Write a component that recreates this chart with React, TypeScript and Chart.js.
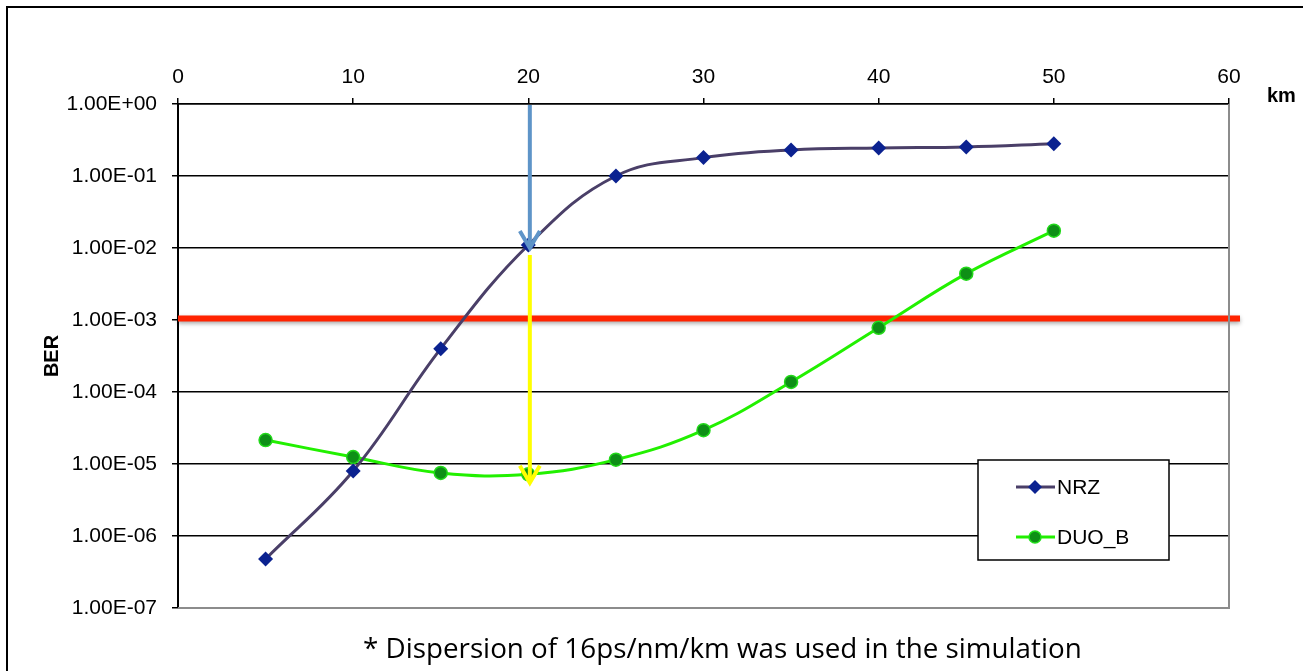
import { useEffect, useRef } from "react";
import { Chart, registerables } from "chart.js";

Chart.register(...registerables);

// ---- data ----
const distancesKm = [5, 10, 15, 20, 25, 30, 35, 40, 45, 50];
const nrzBer = [4.8e-7, 8.0e-6, 4.0e-4, 1.1e-2, 1.0e-1, 1.8e-1, 2.3e-1, 2.45e-1, 2.53e-1, 2.8e-1];
const duoBBer = [2.15e-5, 1.25e-5, 7.5e-6, 7.2e-6, 1.15e-5, 2.95e-5, 1.38e-4, 7.8e-4, 4.4e-3, 1.74e-2];
const seriesNames = ["NRZ", "DUO_B"];
const xTickValues = [0, 10, 20, 30, 40, 50, 60];
const yTickValues = [1, 1e-1, 1e-2, 1e-3, 1e-4, 1e-5, 1e-6, 1e-7];
const thresholdBer = 1e-3;
const arrowDistanceKm = 20;
const blueArrowBer = [1, 1e-2];
const yellowArrowBer = [8e-3, 5.5e-6];
const xUnitLabel = "km";
const yAxisTitle = "BER";
const footnoteText = "* Dispersion of 16ps/nm/km was used in the simulation";

const FONT = "'Liberation Sans', Arial, sans-serif";
const NRZ_LINE = "#4a3f68";
const NRZ_MARK = "#0b2290";
const DUO_LINE = "#22f000";
const DUO_MARK = "#0e8f16";

function fmtExp(v: number): string {
  const e = Math.round(Math.log10(v));
  const m = v / Math.pow(10, e);
  const sign = e < 0 ? "-" : "+";
  const abs = Math.abs(e);
  return m.toFixed(2) + "E" + sign + (abs < 10 ? "0" : "") + abs;
}

function drawArrow(ctx: CanvasRenderingContext2D, x: number, y1: number, y2: number, color: string) {
  ctx.save();
  ctx.strokeStyle = color;
  ctx.lineWidth = 4;
  ctx.lineCap = "butt";
  ctx.beginPath();
  ctx.moveTo(x, y1);
  ctx.lineTo(x, y2 - 1);
  ctx.stroke();
  ctx.lineJoin = "miter";
  ctx.beginPath();
  ctx.moveTo(x - 10, y2 - 17);
  ctx.lineTo(x, y2);
  ctx.lineTo(x + 10, y2 - 17);
  ctx.stroke();
  ctx.restore();
}

const overlayPlugin = {
  id: "overlay",
  beforeDatasetsDraw(chart: any) {
    const { ctx, chartArea, scales } = chart;
    const y = scales.y.getPixelForValue(thresholdBer) - 1.5;
    ctx.save();
    ctx.shadowColor = "rgba(0,0,0,0.35)";
    ctx.shadowBlur = 4;
    ctx.shadowOffsetY = 2;
    ctx.fillStyle = "#ff2300";
    ctx.fillRect(chartArea.left, y - 3, chartArea.right + 11 - chartArea.left, 6);
    ctx.restore();
  },
  afterDatasetsDraw(chart: any) {
    const { ctx, scales } = chart;
    const x = scales.x.getPixelForValue(arrowDistanceKm) + 1.5;
    drawArrow(ctx, x, scales.y.getPixelForValue(blueArrowBer[0]) + 1, scales.y.getPixelForValue(blueArrowBer[1]), "#5e94c8");
    drawArrow(ctx, x, scales.y.getPixelForValue(yellowArrowBer[0]), scales.y.getPixelForValue(yellowArrowBer[1]), "#ffff00");
  },
  afterDraw(chart: any) {
    const { ctx, chartArea } = chart;
    ctx.save();
    // plot area right/bottom border
    ctx.strokeStyle = "#8c8c8c";
    ctx.lineWidth = 2;
    ctx.beginPath();
    ctx.moveTo(chartArea.right, chartArea.top);
    ctx.lineTo(chartArea.right, chartArea.bottom);
    ctx.lineTo(chartArea.left, chartArea.bottom);
    ctx.stroke();

    // outer frame
    ctx.strokeStyle = "#000";
    ctx.lineWidth = 2;
    ctx.beginPath();
    ctx.moveTo(7, 671);
    ctx.lineTo(7, 7);
    ctx.lineTo(1303, 7);
    ctx.stroke();

    // km label
    ctx.fillStyle = "#000";
    ctx.font = "bold 20px " + FONT;
    ctx.textAlign = "left";
    ctx.textBaseline = "middle";
    ctx.fillText(xUnitLabel, chartArea.right + 38, chartArea.top - 8);

    // legend
    const lx = 978, ly = 460, lw = 191, lh = 100;
    ctx.fillStyle = "#fff";
    ctx.fillRect(lx, ly, lw, lh);
    ctx.strokeStyle = "#000";
    ctx.lineWidth = 1.5;
    ctx.strokeRect(lx, ly, lw, lh);
    const entries = [
      { name: seriesNames[0], line: NRZ_LINE, mark: NRZ_MARK, y: ly + 27, shape: "diamond" },
      { name: seriesNames[1], line: DUO_LINE, mark: DUO_MARK, y: ly + 77, shape: "circle" },
    ];
    for (const e of entries) {
      ctx.strokeStyle = e.line;
      ctx.lineWidth = 3;
      ctx.beginPath();
      ctx.moveTo(lx + 38, e.y);
      ctx.lineTo(lx + 77, e.y);
      ctx.stroke();
      const cx = lx + 57;
      ctx.fillStyle = e.mark;
      ctx.beginPath();
      if (e.shape === "diamond") {
        ctx.moveTo(cx, e.y - 7);
        ctx.lineTo(cx + 7, e.y);
        ctx.lineTo(cx, e.y + 7);
        ctx.lineTo(cx - 7, e.y);
        ctx.closePath();
        ctx.fill();
      } else {
        ctx.arc(cx, e.y, 6, 0, Math.PI * 2);
        ctx.fill();
        ctx.strokeStyle = "#22e01a";
        ctx.lineWidth = 1.5;
        ctx.stroke();
      }
      ctx.fillStyle = "#000";
      ctx.font = "21px " + FONT;
      ctx.textAlign = "left";
      ctx.textBaseline = "middle";
      ctx.fillText(e.name, lx + 79, e.y + 1);
    }

    // footnote
    ctx.fillStyle = "#000";
    let size = 26;
    ctx.font = size + "px 'Open Sans', 'Noto Sans', sans-serif";
    const w = ctx.measureText(footnoteText).width;
    size = Math.min(28, size * 719 / w);
    ctx.font = size.toFixed(2) + "px 'Open Sans', 'Noto Sans', sans-serif";
    ctx.textAlign = "left";
    ctx.textBaseline = "alphabetic";
    ctx.fillText(footnoteText, 363, 658);
    ctx.restore();
  },
};

export default function App() {
  const ref = useRef<HTMLCanvasElement | null>(null);
  useEffect(() => {
    if (!ref.current) return;
    const chart = new Chart(ref.current, {
      type: "line",
      data: {
        datasets: [
          {
            label: seriesNames[0],
            data: distancesKm.map((d, i) => ({ x: d, y: nrzBer[i] })),
            borderColor: NRZ_LINE,
            borderWidth: 3,
            backgroundColor: NRZ_MARK,
            pointStyle: "rectRot",
            pointRadius: 7.5,
            pointBorderWidth: 0,
            pointBackgroundColor: NRZ_MARK,
            tension: 0.4,
            fill: false,
          },
          {
            label: seriesNames[1],
            data: distancesKm.map((d, i) => ({ x: d, y: duoBBer[i] })),
            borderColor: DUO_LINE,
            borderWidth: 3,
            backgroundColor: DUO_MARK,
            pointStyle: "circle",
            pointRadius: 6.5,
            pointBorderWidth: 1.5,
            pointBorderColor: "#22d81a",
            pointBackgroundColor: DUO_MARK,
            tension: 0.4,
            fill: false,
          },
        ],
      },
      options: {
        responsive: false,
        animation: false,
        devicePixelRatio: 1,
        layout: { padding: { left: 36, top: 0, right: 74, bottom: 63 } },
        plugins: { legend: { display: false }, tooltip: { enabled: false } },
        scales: {
          x: {
            type: "linear",
            position: "top",
            min: 0,
            max: 60,
            afterFit: (s: any) => { s.height = 104; },
            afterBuildTicks: (s: any) => { s.ticks = xTickValues.map((v) => ({ value: v })); },
            ticks: { color: "#000", font: { family: FONT, size: 21 }, padding: 8, maxRotation: 0 },
            grid: { drawOnChartArea: false, drawTicks: true, tickLength: 6, color: "#000", lineWidth: 1.5 },
            border: { color: "#000", width: 1.5 },
          },
          y: {
            type: "logarithmic",
            min: 1e-7,
            max: 1,
            afterFit: (s: any) => { s.width = 142; },
            afterBuildTicks: (s: any) => { s.ticks = yTickValues.map((v) => ({ value: v })); },
            ticks: {
              color: "#000",
              font: { family: FONT, size: 21 },
              padding: 15,
              callback: (v: any) => fmtExp(Number(v)),
            },
            grid: {
              color: (c: any) => (c.tick && c.tick.value === 1e-7 ? "#8c8c8c" : "#000"),
              tickColor: "#000",
              lineWidth: 1.5,
              tickLength: 6,
            },
            border: { color: "#000", width: 2 },
            title: {
              display: true,
              text: yAxisTitle,
              color: "#000",
              font: { family: FONT, size: 20, weight: "bold" },
              padding: { top: 4, bottom: 4 },
            },
          },
        },
      },
      plugins: [overlayPlugin],
    } as any);
    return () => chart.destroy();
  }, []);
  return (
    <div style={{ position: "fixed", left: 0, top: 0, width: 1303, height: 671, background: "#fff" }}>
      <canvas ref={ref} width={1303} height={671} style={{ display: "block", width: 1303, height: 671 }} />
    </div>
  );
}
